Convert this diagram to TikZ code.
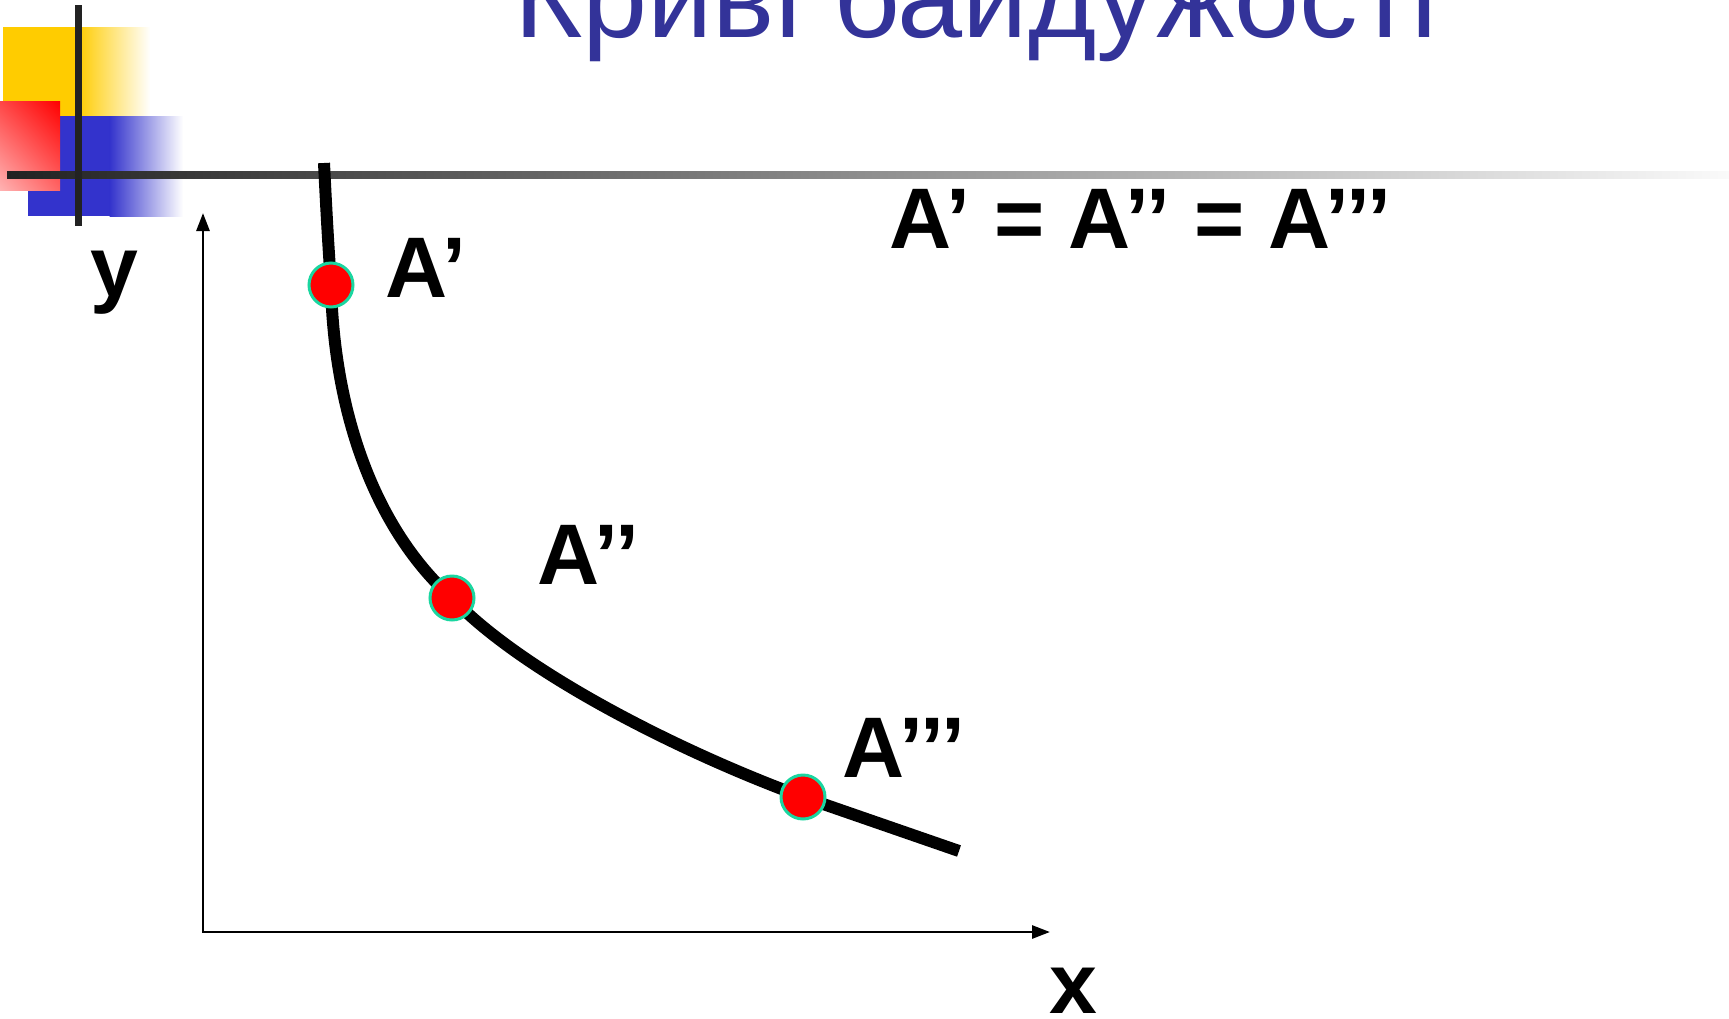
\documentclass[tikz,border=0pt]{standalone}
\usepackage{fontspec}
\setmainfont{Liberation Sans}
\usetikzlibrary{arrows.meta,shadings}
\definecolor{titleblue}{RGB}{51,51,153}
\definecolor{decoyellow}{RGB}{255,204,0}
\definecolor{decoblue}{RGB}{51,51,204}
\definecolor{mint}{RGB}{26,214,160}
\definecolor{linedark}{RGB}{34,34,34}
\definecolor{linelight}{RGB}{250,250,250}
\definecolor{pinklight}{RGB}{255,178,178}
\definecolor{redmidA}{RGB}{255,70,70}
\definecolor{redmidB}{RGB}{255,100,100}
\tikzset{
  lbl/.style={font=\fontsize{86}{86}\selectfont\bfseries, inner sep=0pt, anchor=base west},
  titletext/.style={font=\fontsize{117}{117}\selectfont, text=titleblue, inner sep=0pt, anchor=base west},
  dotpt/.style={circle, fill=red, draw=mint, line width=3pt, minimum size=44pt, inner sep=0pt},
  curveline/.style={line width=12pt, black},
  axisline/.style={line width=2.8pt, black, {Triangle[length=18pt,width=13pt]}-{Triangle[length=18pt,width=13pt]}}
}
\begin{document}
\begin{tikzpicture}[x=1pt,y=1pt]
\useasboundingbox (0,0) rectangle (1729,-1018);
\clip (0,0) rectangle (1729,-1018);
% decoration
\fill[decoyellow] (3,-27) rectangle (78,-116);
\shade[left color=decoyellow, right color=white] (77.5,-27) rectangle (150,-116);
\fill[decoblue] (28,-116) rectangle (110,-216);
\shade[left color=decoblue, right color=white] (109.5,-116) rectangle (183,-216);
\shade[upper right=red, lower left=pinklight, upper left=redmidA, lower right=redmidB] (0,-101) rectangle (60,-190);
\shade[left color=linedark, right color=linelight] (7,-171) rectangle (1729,-178);
\fill[linedark] (75,-5) rectangle (82,-226);
% title
\node[titletext] (title) at (514,-37.5) {Криві байдужості};
% axes
\coordinate (O) at (203,-932);
\coordinate (ytip) at (203,-213);
\coordinate (xtip) at (1050,-932);
\draw[axisline] (ytip) -- (O) -- (xtip);
\node[lbl] (ylab) at (90,-296) {y};
\node[lbl] (xlab) at (1049,-1013) {x};
% curve
\coordinate (ctop) at (324,-163);
\coordinate (cend) at (959,-851);
\coordinate (P1) at (331,-285);
\coordinate (P2) at (452,-598);
\coordinate (P3) at (803,-797);
\draw[curveline] (ctop) .. controls (327,-225) and (329,-255) .. (P1)
  .. controls (334,-415) and (376,-530) .. (P2)
  .. controls (522,-672) and (680,-752) .. (P3)
  -- (cend);
\node[dotpt] (A1) at (P1) {};
\node[dotpt] (A2) at (P2) {};
\node[dotpt] (A3) at (P3) {};
% labels
\node[lbl] (l1) at (385,-297) {A’};
\node[lbl] (l2) at (537,-584) {A’’};
\node[lbl] (l3) at (842,-777) {A’’’};
\node[lbl] (eq) at (889,-248) {A’ = A’’ = A’’’};
\end{tikzpicture}
\end{document}
